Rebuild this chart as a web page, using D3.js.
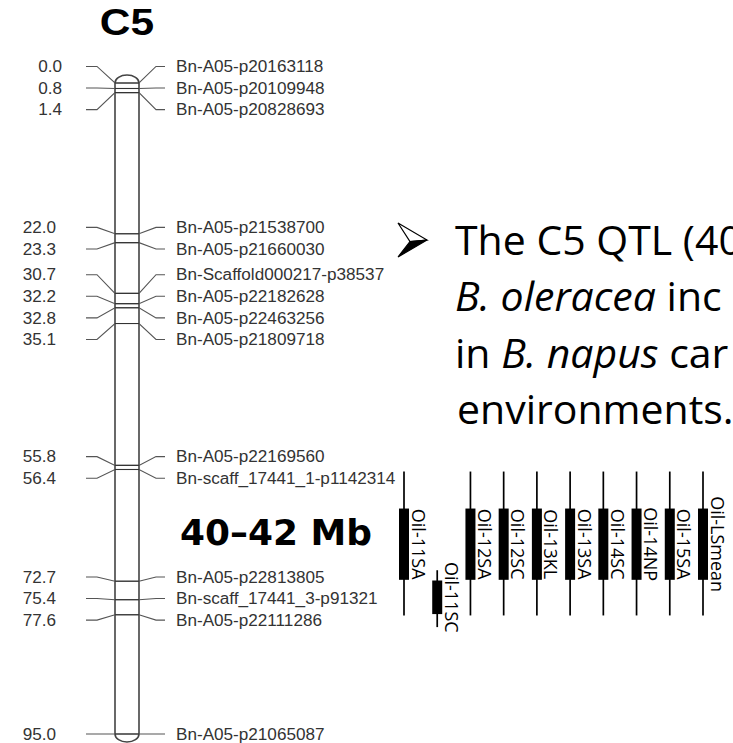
<!DOCTYPE html>
<html>
<head>
<meta charset="utf-8">
<script src="https://cdn.jsdelivr.net/npm/d3@7"></script>
<style>
  html, body { margin: 0; padding: 0; background: #fff; }
  svg { display: block; }
</style>
</head>
<body>
<svg id="chart" width="733" height="743"></svg>
<script>
// ---------------- data ----------------
const chromosomeName = "C5";
const markerPositions = [0.0, 0.8, 1.4, 22.0, 23.3, 30.7, 32.2, 32.8, 35.1, 55.8, 56.4, 72.7, 75.4, 77.6, 95.0];
const markerNames = [
  "Bn-A05-p20163118", "Bn-A05-p20109948", "Bn-A05-p20828693",
  "Bn-A05-p21538700", "Bn-A05-p21660030", "Bn-Scaffold000217-p38537",
  "Bn-A05-p22182628", "Bn-A05-p22463256", "Bn-A05-p21809718",
  "Bn-A05-p22169560", "Bn-scaff_17441_1-p1142314",
  "Bn-A05-p22813805", "Bn-scaff_17441_3-p91321", "Bn-A05-p22111286",
  "Bn-A05-p21065087"
];
const qtlNames    = ["Oil-11SA", "Oil-11SC", "Oil-12SA", "Oil-12SC", "Oil-13KL", "Oil-13SA", "Oil-14SC", "Oil-14NP", "Oil-15SA", "Oil-LSmean"];
const qtlStart    = [56.7, 71.1, 56.7, 56.7, 56.7, 56.7, 56.7, 56.7, 56.7, 56.7];
const qtlPeakFrom = [62.1, 72.6, 62.1, 62.1, 62.1, 62.1, 62.1, 62.1, 62.1, 62.1];
const qtlPeakTo   = [72.5, 77.5, 72.5, 72.5, 72.5, 72.5, 72.5, 72.5, 72.5, 72.5];
const qtlEnd      = [77.7, 79.4, 77.7, 77.7, 77.7, 77.7, 77.7, 77.7, 77.7, 77.7];
const regionLabel = "40–42 Mb";
const bulletLines = [
  [{t: "The C5 QTL (40", i: false}],
  [{t: "B. oleracea", i: true}, {t: " inc", i: false}],
  [{t: "in ", i: false}, {t: "B. napus", i: true}, {t: " car", i: false}],
  [{t: "environments.", i: false}]
];

// ---------------- drawing ----------------
const svg = d3.select("#chart");
const y = d3.scaleLinear().domain([0, 95]).range([83, 734]);
const x0 = 115, x1 = 139, capRy = 8;
const lineColor = "#555", textColor = "#333";

function stretch(sel, k) {
  sel.each(function () {
    const w = this.getComputedTextLength();
    d3.select(this).attr("textLength", w * k).attr("lengthAdjust", "spacingAndGlyphs");
  });
}

// label spreading (group overlapping labels, centre on mean)
function spread(ys, gap) {
  let groups = ys.map((v, i) => ({idx: [i], c: v}));
  let changed = true;
  while (changed) {
    changed = false;
    for (let i = 0; i < groups.length - 1; i++) {
      const a = groups[i], b = groups[i + 1];
      const aB = a.c + (a.idx.length - 1) * gap / 2;
      const bT = b.c - (b.idx.length - 1) * gap / 2;
      if (bT - aB < gap) {
        const idx = a.idx.concat(b.idx);
        groups.splice(i, 2, {idx, c: d3.mean(idx, k => ys[k])});
        changed = true;
        break;
      }
    }
  }
  const out = [];
  groups.forEach(g => g.idx.forEach((k, j) => out[k] = g.c + (j - (g.idx.length - 1) / 2) * gap));
  return out;
}

const markerY = markerPositions.map(d => y(d));
const labelY = spread(markerY, 21.6);

// title
const title = svg.append("text")
  .attr("x", 0).attr("y", 35)
  .attr("font-family", "Liberation Sans, Arial, sans-serif")
  .attr("font-weight", "bold").attr("font-size", 36)
  .attr("fill", "#000")
  .text(chromosomeName);
stretch(title, 1.18);
title.attr("x", (x0 + x1) / 2 - (+title.attr("textLength")) / 2);

// chromosome body
const yT = y(0), yB = y(95), rx = (x1 - x0) / 2;
svg.append("path")
  .attr("d", `M${x0},${yT} L${x0},${yB} A${rx},${capRy} 0 0 0 ${x1},${yB} L${x1},${yT} A${rx},${capRy} 0 0 0 ${x0},${yT} Z`)
  .attr("fill", "#fff").attr("stroke", "#444").attr("stroke-width", 1.6);

// markers
const mk = svg.append("g").attr("fill", "none").attr("stroke", lineColor).attr("stroke-width", 1.1);
markerPositions.forEach((d, i) => {
  const my = markerY[i], ly = labelY[i];
  mk.append("path").attr("d", d3.line()([[86, ly], [97, ly], [x0, my], [x1, my], [156, ly], [165, ly]]));
  mk.append("line").attr("x1", x0).attr("x2", x1).attr("y1", my).attr("y2", my).attr("stroke", "#333");
});

const fmt = d3.format(".1f");
const leftLab = svg.append("g").selectAll("text").data(markerPositions).join("text")
  .attr("x", d => d < 10 ? 38.3 : 22.7)
  .attr("y", (d, i) => labelY[i]).attr("dy", "0.36em")
  .attr("font-family", "Liberation Sans, Arial, sans-serif").attr("font-size", 16)
  .attr("fill", textColor)
  .text(d => fmt(d));
stretch(leftLab, 1.07);

const rightLab = svg.append("g").selectAll("text").data(markerNames).join("text")
  .attr("x", 176)
  .attr("y", (d, i) => labelY[i]).attr("dy", "0.36em")
  .attr("font-family", "Liberation Sans, Arial, sans-serif").attr("font-size", 16)
  .attr("fill", textColor)
  .text(d => d);
stretch(rightLab, 1.07);

// QTL bars
const xq = d3.scalePoint().domain(qtlNames).range([404, 703]);
const qg = svg.append("g");
qtlNames.forEach((n, i) => {
  const cx = xq(n);
  qg.append("line").attr("x1", cx).attr("x2", cx)
    .attr("y1", y(qtlStart[i])).attr("y2", y(qtlEnd[i]))
    .attr("stroke", "#000").attr("stroke-width", 1.7);
  qg.append("rect").attr("x", cx - 5).attr("width", 10)
    .attr("y", y(qtlPeakFrom[i])).attr("height", y(qtlPeakTo[i]) - y(qtlPeakFrom[i]))
    .attr("fill", "#000");
  const cy = (y(qtlPeakFrom[i]) + y(qtlPeakTo[i])) / 2;
  qg.append("text")
    .attr("transform", `translate(${cx + 7.5},${cy}) rotate(90)`)
    .attr("text-anchor", "middle")
    .attr("font-family", "Open Sans, sans-serif").attr("font-size", 18)
    .attr("fill", "#000")
    .text(n);
});

// region label
const reg = svg.append("text")
  .attr("x", 180).attr("y", 545)
  .attr("font-family", "DejaVu Sans, sans-serif").attr("font-weight", "bold").attr("font-size", 35)
  .attr("fill", "#000").text(regionLabel);
reg.attr("textLength", 192).attr("lengthAdjust", "spacingAndGlyphs");

// bullet arrowhead (3-D, top face light, bottom face dark)
const ax = 398, ay = 240, aw = 29, ah = 17;
const bullet = svg.append("g").attr("stroke", "#000").attr("stroke-width", 1.2).attr("stroke-linejoin", "miter");
bullet.append("path")
  .attr("d", `M${ax},${ay - ah} L${ax + aw},${ay} L${ax + 12},${ay + 1.5} Z`)
  .attr("fill", "#fff");
bullet.append("path")
  .attr("d", `M${ax + 12},${ay + 1.5} L${ax + aw},${ay} L${ax},${ay + ah} Z`)
  .attr("fill", "#000");

const bt = svg.append("g").attr("font-family", "Open Sans, sans-serif").attr("font-size", 41).attr("fill", "#000");
bulletLines.forEach((parts, li) => {
  const t = bt.append("text").attr("x", li === 3 ? 457 : 455).attr("y", 255 + li * 56.3);
  parts.forEach(p => t.append("tspan").attr("font-style", p.i ? "italic" : "normal").text(p.t));
});
</script>
</body>
</html>
